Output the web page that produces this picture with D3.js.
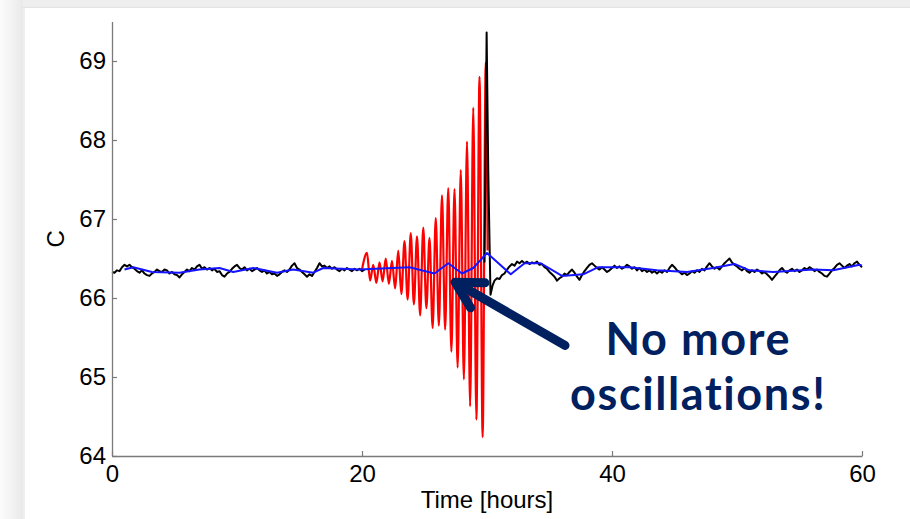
<!DOCTYPE html>
<html>
<head>
<meta charset="utf-8">
<script src="https://cdn.jsdelivr.net/npm/d3@7"></script>
<style>
  html, body { margin: 0; padding: 0; background: #ffffff; }
  svg { display: block; }
</style>
</head>
<body>
<svg id="chart" width="910" height="519"></svg>
<script>
// ---- data -------------------------------------------------------------
// controlled concentration, sampled every 0.2 h from t = 0
const blackEarly = [
  66.33, 66.32, 66.35, 66.34, 66.39, 66.42, 66.40, 66.42, 66.39, 66.37,
  66.34, 66.32, 66.35, 66.31, 66.29, 66.28, 66.31, 66.33, 66.36, 66.34,
  66.33, 66.36, 66.35, 66.31, 66.33, 66.30, 66.29, 66.26, 66.30, 66.33,
  66.36, 66.34, 66.38, 66.36, 66.40, 66.42, 66.37, 66.39, 66.36, 66.38,
  66.35, 66.37, 66.33, 66.34, 66.29, 66.27, 66.31, 66.33, 66.37, 66.40,
  66.42, 66.38, 66.36, 66.39, 66.35, 66.37, 66.34, 66.36, 66.38, 66.35,
  66.33, 66.35, 66.31, 66.33, 66.30, 66.31, 66.28, 66.30, 66.33, 66.35,
  66.33, 66.36, 66.41, 66.44, 66.38, 66.36, 66.33, 66.30, 66.27, 66.30,
  66.28, 66.33, 66.38, 66.44, 66.40, 66.41, 66.38, 66.40, 66.37, 66.39,
  66.36, 66.34, 66.37, 66.35, 66.38, 66.36, 66.34, 66.37, 66.35, 66.37,
  66.34, 66.36
];
const blackEarlyStart = 0;
const blackStep = 0.2;

// transient when the controller switches on, [time, C]
const blackSpike = [
  [29.8, 66.45], [29.97, 69.36], [30.1, 67.6], [30.28, 66.04], [30.45, 66.16]
];

// controlled concentration, sampled every 0.2 h from t = 30.6
const blackLate = [
  66.22, 66.25, 66.24, 66.29, 66.31, 66.36, 66.40, 66.43, 66.41, 66.46,
  66.44, 66.47, 66.44, 66.46, 66.43, 66.45, 66.44, 66.46, 66.42, 66.43,
  66.39, 66.37, 66.33, 66.30, 66.27, 66.22, 66.25, 66.27, 66.31, 66.29,
  66.33, 66.36, 66.32, 66.27, 66.23, 66.29, 66.34, 66.38, 66.42, 66.44,
  66.41, 66.38, 66.36, 66.39, 66.36, 66.33, 66.35, 66.38, 66.41, 66.38,
  66.40, 66.37, 66.39, 66.42, 66.40, 66.37, 66.39, 66.35, 66.38, 66.34,
  66.36, 66.33, 66.35, 66.32, 66.34, 66.31, 66.34, 66.32, 66.35, 66.33,
  66.38, 66.42, 66.39, 66.35, 66.33, 66.30, 66.32, 66.29, 66.31, 66.34,
  66.32, 66.35, 66.33, 66.37, 66.35, 66.40, 66.44, 66.40, 66.37, 66.39,
  66.36, 66.40, 66.44, 66.47, 66.50, 66.45, 66.42, 66.40, 66.37, 66.35,
  66.38, 66.34, 66.32, 66.35, 66.33, 66.36, 66.34, 66.31, 66.33, 66.30,
  66.27, 66.23, 66.27, 66.31, 66.35, 66.38, 66.34, 66.32, 66.35, 66.37,
  66.34, 66.36, 66.33, 66.35, 66.38, 66.36, 66.39, 66.37, 66.34, 66.36,
  66.33, 66.31, 66.28, 66.27, 66.31, 66.35, 66.38, 66.42, 66.44, 66.41,
  66.38, 66.41, 66.43, 66.40, 66.44, 66.46, 66.42, 66.39
];
const blackLateStart = 30.6;

// uncontrolled oscillation: successive peaks and troughs, [time, C]
const redExtremes = [
  [20.0, 66.36], [20.4, 66.57], [20.65, 66.22], [20.9, 66.42], [21.15, 66.19],
  [21.4, 66.45], [21.65, 66.21], [21.9, 66.50], [22.15, 66.18], [22.4, 66.47],
  [22.65, 66.12], [22.9, 66.60], [23.15, 66.05], [23.4, 66.72], [23.65, 65.98],
  [23.9, 66.82], [24.15, 65.92], [24.4, 66.78], [24.65, 65.78], [24.9, 66.89],
  [25.15, 65.87], [25.4, 66.76], [25.65, 65.62], [25.9, 67.01], [26.15, 65.65],
  [26.4, 67.30], [26.65, 65.60], [26.9, 67.39], [27.15, 65.32], [27.4, 67.38],
  [27.65, 65.12], [27.9, 67.62], [28.15, 64.97], [28.4, 67.98], [28.65, 64.63],
  [28.9, 68.41], [29.15, 64.46], [29.4, 68.80], [29.65, 64.24], [29.9, 68.98],
  [30.05, 66.6]
];

// estimated (filtered) concentration
const blueTimes = [1.0, 1.7, 3.2, 5.4, 7.0, 8.6, 9.7, 11.3, 13.2, 14.5, 16.1, 16.9,
  19.8, 23.8, 25.8, 26.9, 28.0, 28.9, 30.0, 31.9, 33.0, 34.3, 36.0, 37.7, 38.9,
  41.4, 43.6, 46.0, 48.1, 49.8, 51.0, 52.9, 56.1, 57.7, 59.8, 60.0];
const blueValues = [66.36, 66.39, 66.33, 66.32, 66.36, 66.38, 66.33, 66.38, 66.32,
  66.36, 66.32, 66.38, 66.36, 66.39, 66.31, 66.44, 66.31, 66.38, 66.57, 66.30,
  66.44, 66.44, 66.28, 66.30, 66.39, 66.39, 66.35, 66.33, 66.38, 66.43, 66.35,
  66.33, 66.36, 66.35, 66.42, 66.41];

const xTicks = [0, 20, 40, 60];
const yTicks = [64, 65, 66, 67, 68, 69];
const xLabel = "Time [hours]";
const yLabel = "C";
const noteLines = ["No more", "oscillations!"];
// arrow from the note back to the damped estimate, [time, C]
const arrowTail = [36.24, 65.40];
const arrowTip = [27.44, 66.20];

// ---- layout ------------------------------------------------------------
const W = 910, H = 519;
const svg = d3.select("#chart");

// slide background: pale frame along the top and left edges
const defs = svg.append("defs");
const grad = defs.append("linearGradient").attr("id", "edgeFade")
  .attr("x1", 0).attr("x2", 1).attr("y1", 0).attr("y2", 0);
grad.append("stop").attr("offset", "0%").attr("stop-color", "#fcfcfc");
grad.append("stop").attr("offset", "100%").attr("stop-color", "#e9e9e9");

svg.append("rect").attr("x", 0).attr("y", 0).attr("width", W).attr("height", H).attr("fill", "#ffffff");
svg.append("rect").attr("x", 0).attr("y", 0).attr("width", W).attr("height", 8).attr("fill", "#eeeeee");
svg.append("rect").attr("x", 0).attr("y", 7).attr("width", W).attr("height", 1).attr("fill", "#e3e3e3");
svg.append("rect").attr("x", 0).attr("y", 0).attr("width", 23).attr("height", H).attr("fill", "url(#edgeFade)");
svg.append("rect").attr("x", 23).attr("y", 8).attr("width", 2).attr("height", H - 8).attr("fill", "#eeeeee");

const x = d3.scaleLinear().domain([0, 60]).range([112, 862]);
const y = d3.scaleLinear().domain([64, 69.5]).range([456, 21.5]);

// ---- series ------------------------------------------------------------
const blackSeries = []
  .concat(blackEarly.map((v, i) => [blackEarlyStart + i * blackStep, v]))
  .concat([[25, null]])
  .concat(blackSpike)
  .concat(blackLate.map((v, i) => [blackLateStart + i * blackStep, v]));

const blueSeries = blueTimes.map((t, i) => [t, blueValues[i]]);

const plot = svg.append("g");

plot.append("path")
  .datum(redExtremes)
  .attr("fill", "none")
  .attr("stroke", "#ff0000")
  .attr("stroke-width", 2.2)
  .attr("stroke-linejoin", "round")
  .attr("d", d3.line().x(d => x(d[0])).y(d => y(d[1])).curve(d3.curveMonotoneX));

plot.append("path")
  .datum(blackSeries)
  .attr("fill", "none")
  .attr("stroke", "#000000")
  .attr("stroke-width", 2)
  .attr("stroke-linejoin", "round")
  .attr("d", d3.line().defined(d => d[1] != null).x(d => x(d[0])).y(d => y(d[1])));

plot.append("path")
  .datum(blueSeries)
  .attr("fill", "none")
  .attr("stroke", "#1414ff")
  .attr("stroke-width", 2)
  .attr("stroke-linejoin", "round")
  .attr("d", d3.line().x(d => x(d[0])).y(d => y(d[1])));

// ---- axes --------------------------------------------------------------
const axisColor = "#7a7a7a";
const font = "'Liberation Sans', Arial, sans-serif";

const gy = svg.append("g").attr("transform", `translate(${x(0)},0)`)
  .call(d3.axisLeft(y).tickValues(yTicks).tickFormat(d3.format("d"))
    .tickSize(-5).tickSizeOuter(0).tickPadding(6));
const gx = svg.append("g").attr("transform", `translate(0,${y(64)})`)
  .call(d3.axisBottom(x).tickValues(xTicks).tickFormat(d3.format("d"))
    .tickSize(-5).tickSizeOuter(0).tickPadding(9));

[gx, gy].forEach(g => {
  g.select(".domain").attr("stroke", axisColor).attr("stroke-width", 1.3);
  g.selectAll(".tick line").attr("stroke", axisColor).attr("stroke-width", 1.2);
  g.selectAll(".tick text").attr("fill", "#000").style("font-family", font).style("font-size", "24px");
});

svg.append("text")
  .attr("x", (x(0) + x(60)) / 2).attr("y", 508)
  .attr("text-anchor", "middle")
  .style("font-family", font).style("font-size", "24px").attr("fill", "#000")
  .text(xLabel);

svg.append("text")
  .attr("transform", `translate(64,${(y(64) + y(69.5)) / 2}) rotate(-90)`)
  .attr("text-anchor", "middle")
  .style("font-family", font).style("font-size", "24px").attr("fill", "#000")
  .text(yLabel);

// ---- annotation --------------------------------------------------------
const navy = "#002060";
const tip = [x(arrowTip[0]), y(arrowTip[1])];
const tail = [x(arrowTail[0]), y(arrowTail[1])];
const ang = Math.atan2(tail[1] - tip[1], tail[0] - tip[0]);
const headLen = 30, spread = 0.5;
const arm1 = [tip[0] + headLen * Math.cos(ang - spread), tip[1] + headLen * Math.sin(ang - spread)];
const arm2 = [tip[0] + headLen * Math.cos(ang + spread), tip[1] + headLen * Math.sin(ang + spread)];

const note = svg.append("g");
note.append("line")
  .attr("x1", tail[0]).attr("y1", tail[1]).attr("x2", tip[0] + 3 * Math.cos(ang)).attr("y2", tip[1] + 3 * Math.sin(ang))
  .attr("stroke", navy).attr("stroke-width", 9).attr("stroke-linecap", "round");
note.append("path")
  .attr("d", d3.line()([arm1, tip, arm2]))
  .attr("fill", "none").attr("stroke", navy).attr("stroke-width", 9)
  .attr("stroke-linecap", "round").attr("stroke-linejoin", "round");

note.selectAll("text.note")
  .data(noteLines)
  .join("text")
  .attr("class", "note")
  .attr("x", x(46.9))
  .attr("y", (d, i) => y(65.28) + i * 55)
  .attr("text-anchor", "middle")
  .style("font-family", "Lato, 'Open Sans', sans-serif")
  .style("font-weight", "bold")
  .style("font-size", "45px")
  .style("letter-spacing", "1.6px")
  .style("font-variant-ligatures", "none")
  .attr("fill", navy)
  .text(d => d);
</script>
</body>
</html>
